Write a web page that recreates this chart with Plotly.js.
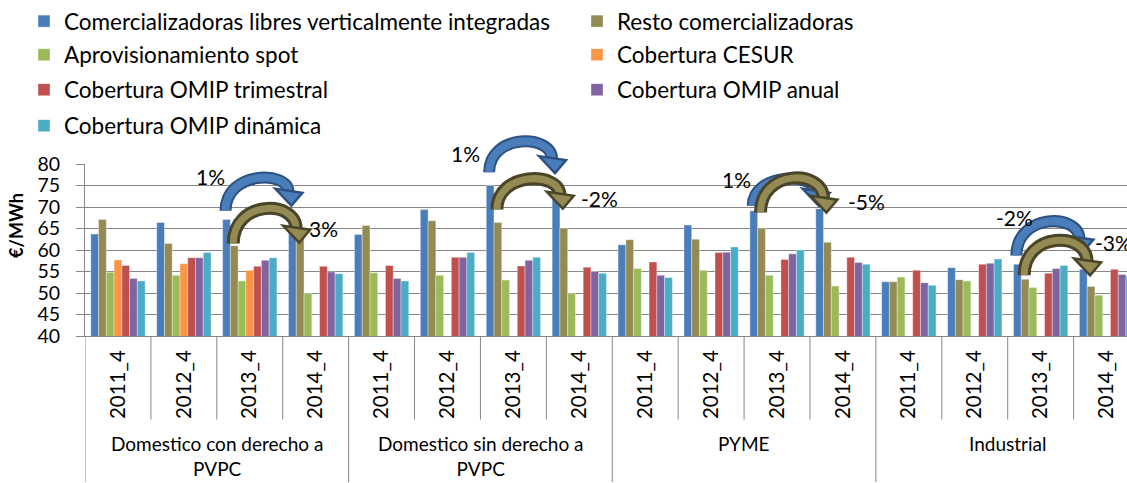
<!DOCTYPE html>
<html>
<head>
<meta charset="utf-8">
<script src="https://cdn.plot.ly/plotly-3.0.1.min.js"></script>
<style>body{margin:0;background:#fff}</style>
</head>
<body>
<div id="chart" style="width:1127px;height:483px"></div>
<script>
const SEGMENTS = ['Domestico con derecho a<br>PVPC', 'Domestico sin derecho a<br>PVPC', 'PYME', 'Industrial'];
const PERIODS = ['2011_4', '2012_4', '2013_4', '2014_4'];

const SERIES_NAMES = [
  'Comercializadoras libres verticalmente integradas',
  'Resto comercializadoras',
  'Aprovisionamiento spot',
  'Cobertura CESUR',
  'Cobertura OMIP trimestral',
  'Cobertura OMIP anual',
  'Cobertura OMIP dinámica'
];
const COLORS = ['#4A7EBB', '#948A54', '#9BBB59', '#F79646', '#C0504D', '#8064A2', '#4BACC6'];

// €/MWh, 16 categories: 4 segments x 4 periods
const VERTICAL   = [63.7, 66.4, 67.1, 67.8, 63.6, 69.4, 75.0, 75.8, 61.2, 65.8, 69.1, 69.6, 52.6, 55.9, 56.7, 55.5];
const RESTO      = [67.1, 61.5, 61.0, 62.8, 65.7, 66.8, 66.4, 65.1, 62.4, 62.5, 65.1, 61.8, 52.6, 53.1, 53.2, 51.5];
const SPOT       = [54.8, 54.1, 52.8, 49.9, 54.7, 54.1, 53.0, 49.9, 55.7, 55.3, 54.1, 51.6, 53.7, 52.8, 51.3, 49.5];
const CESUR      = [57.7, 56.8, 55.3, null, null, null, null, null, null, null, null, null, null, null, null, null];
const OMIP_TRIM  = [56.4, 58.2, 56.2, 56.2, 56.4, 58.3, 56.3, 56.0, 57.2, 59.4, 57.8, 58.3, 55.3, 56.7, 54.6, 55.5];
const OMIP_ANUAL = [53.4, 58.2, 57.6, 54.9, 53.4, 58.3, 57.6, 55.0, 54.1, 59.5, 59.1, 57.1, 52.4, 56.9, 55.7, 54.3];
const OMIP_DIN   = [52.8, 59.4, 58.2, 54.5, 52.8, 59.4, 58.3, 54.6, 53.6, 60.7, 60.0, 56.7, 51.8, 57.9, 56.4, 53.9];

const SERIES = [VERTICAL, RESTO, SPOT, CESUR, OMIP_TRIM, OMIP_ANUAL, OMIP_DIN];

// year-on-year change callouts: series, from category, tail / tip / top of arc (€/MWh), label
const CHANGES = [
  {s: 0, from: 2,  tail: 69.1, tip: 70.3, top: 78.1, label: '1%',  lx: 1.40,  ly: 77.0},
  {s: 1, from: 2,  tail: 61.5, tip: 61.7, top: 71.0, label: '3%',  lx: 3.12,  ly: 64.9},
  {s: 0, from: 6,  tail: 78.1, tip: 77.9, top: 86.6, label: '1%',  lx: 5.28,  ly: 82.5},
  {s: 1, from: 6,  tail: 69.4, tip: 69.6, top: 77.9, label: '-2%', lx: 7.31,  ly: 71.9},
  {s: 0, from: 10, tail: 70.3, tip: 70.3, top: 77.9, label: '1%',  lx: 9.39,  ly: 76.5},
  {s: 1, from: 10, tail: 68.7, tip: 68.7, top: 78.1, label: '-5%', lx: 11.35, ly: 71.2},
  {s: 0, from: 14, tail: 58.7, tip: 59.4, top: 68.0, label: '-2%', lx: 13.61, ly: 67.5},
  {s: 1, from: 14, tail: 54.1, tip: 54.1, top: 63.6, label: '-3%', lx: 15.10, ly: 61.7}
];
const ARROW_EDGE = ['#2C5182', '#4A4528'];

const FONT = 'Lato, "Open Sans", sans-serif';
const M = {l: 85, r: 0, t: 163, b: 147};
const W = 1127 - M.l - M.r;
const H = 483 - M.t - M.b;
const XR = [-0.5, 15.31];
const YR = [40, 80];
const BARGAP = 0.176;

// legend slots: column (text start, px) and row (centre, px) for each series
const LEGEND_COL = [64, 617];
const LEGEND_ROW = [20, 55, 90, 126];

const categories = [];
const ticktext = [];
SEGMENTS.forEach(function(seg) {
  PERIODS.forEach(function(p) {
    categories.push(categories.length);
    ticktext.push(p);
  });
});

function legendName(k) { return k === 0 ? 'legend' : 'legend' + (k + 1); }

const traces = SERIES.map(function(vals, k) {
  return {
    type: 'bar',
    x: categories,
    y: vals,
    name: SERIES_NAMES[k],
    marker: {color: COLORS[k], line: {color: 'rgba(255,255,255,0.6)', width: 0.6}},
    legend: legendName(k),
    hoverinfo: 'skip'
  };
});

// pixel helpers, used only to convert callout geometry to paper coords
function px(x) { return M.l + (x - XR[0]) / (XR[1] - XR[0]) * W; }
function py(v) { return M.t + (YR[1] - v) / (YR[1] - YR[0]) * H; }
function X(p) { return ((p - M.l) / W).toFixed(5); }
function Y(p) { return ((M.t + H - p) / H).toFixed(5); }
function barCenter(i, s) {
  const w = (1 - BARGAP) / SERIES.length;
  return i - (1 - BARGAP) / 2 + (s + 0.5) * w;
}

const shapes = [];
const annotations = [];

// category dividers
for (let i = 0; i <= 16; i++) {
  const isGroup = i % 4 === 0;
  shapes.push({
    type: 'line', xref: 'x', yref: 'paper',
    x0: i - 0.5, x1: i - 0.5, y0: 0, y1: isGroup ? -M.b / H : -84 / H,
    line: {color: '#868686', width: 1}
  });
}

SEGMENTS.forEach(function(seg, g) {
  annotations.push({
    xref: 'x', yref: 'paper', x: g * 4 + 1.5, y: -95 / H,
    yanchor: 'top', showarrow: false, text: seg,
    font: {family: FONT, size: 19, color: '#000'}
  });
});

annotations.push({
  xref: 'paper', yref: 'y', x: (16 - M.l) / W, y: 65.6, textangle: -90,
  xanchor: 'center', yanchor: 'middle',
  showarrow: false, text: '<b>€/MWh</b>', font: {family: FONT, size: 18, color: '#000'}
});

CHANGES.forEach(function(c) {
  const xt = px(barCenter(c.from, c.s)) - 1;
  const xh = px(barCenter(c.from + 1, c.s)) - 4;
  const yt = py(c.tail);
  const ytip = py(c.tip);
  const yb = ytip - 14;
  const ypk = py(c.top) + 6;
  const yavg = (yt + yb) / 2;
  const yc = yavg + (ypk - yavg) / 0.75;
  const arc = 'M' + X(xt) + ',' + Y(yt) +
    ' C' + X(xt) + ',' + Y(yc) + ' ' + X(xh) + ',' + Y(yc) + ' ' + X(xh) + ',' + Y(yb);
  const head = 'M' + X(xh - 13) + ',' + Y(yb - 3) + ' L' + X(xh + 14) + ',' + Y(yb + 1) +
    ' L' + X(xh + 3) + ',' + Y(ytip) + ' Z';
  const edgeW = c.s === 0 ? 12 : 13;
  const fillW = c.s === 0 ? 8 : 7;
  shapes.push({type: 'path', xref: 'paper', yref: 'paper', path: arc, line: {color: ARROW_EDGE[c.s], width: edgeW}});
  shapes.push({type: 'path', xref: 'paper', yref: 'paper', path: arc, line: {color: COLORS[c.s], width: fillW}});
  shapes.push({type: 'path', xref: 'paper', yref: 'paper', path: head,
    fillcolor: COLORS[c.s], line: {color: ARROW_EDGE[c.s], width: 2.5}});
  // paper refs so labels above the y range still show
  annotations.push({
    xref: 'paper', yref: 'paper', x: Number(X(px(c.lx))), y: Number(Y(py(c.ly))),
    xanchor: 'center', yanchor: 'middle',
    showarrow: false, text: c.label,
    font: {family: FONT, size: 21, color: '#000'}
  });
});

const layout = {
  width: 1127,
  height: 483,
  margin: M,
  paper_bgcolor: '#fff',
  plot_bgcolor: '#fff',
  barmode: 'group',
  bargap: BARGAP,
  bargroupgap: 0,
  font: {family: FONT, color: '#000'},
  showlegend: true,
  xaxis: {
    type: 'linear', range: XR, tickvals: categories, ticktext: ticktext,
    tickangle: -90, showgrid: false, zeroline: false, showline: true,
    linecolor: '#868686', ticks: '', ticklabelstandoff: 5,
    tickfont: {family: FONT, size: 20.5, color: '#000'}
  },
  yaxis: {
    range: YR, dtick: 5, showgrid: true, gridcolor: '#868686', zeroline: false,
    showline: true, linecolor: '#868686', ticks: 'outside', ticklen: 8, tickcolor: '#868686',
    ticklabelstandoff: 12,
    tickfont: {family: FONT, size: 19.5, color: '#000'}
  },
  shapes: shapes,
  annotations: annotations
};

SERIES.forEach(function(vals, k) {
  const col = k % 2;
  const row = Math.floor(k / 2);
  layout[legendName(k)] = {
    orientation: 'h', xanchor: 'left', yanchor: 'middle',
    x: (LEGEND_COL[col] - 40 - M.l) / W,
    y: (M.t + H - LEGEND_ROW[row]) / H,
    itemwidth: 30, bgcolor: 'rgba(0,0,0,0)',
    font: {family: FONT, size: 22.5, color: '#000'}
  };
});

Plotly.newPlot('chart', traces, layout, {displayModeBar: false, staticPlot: true});
</script>
</body>
</html>
